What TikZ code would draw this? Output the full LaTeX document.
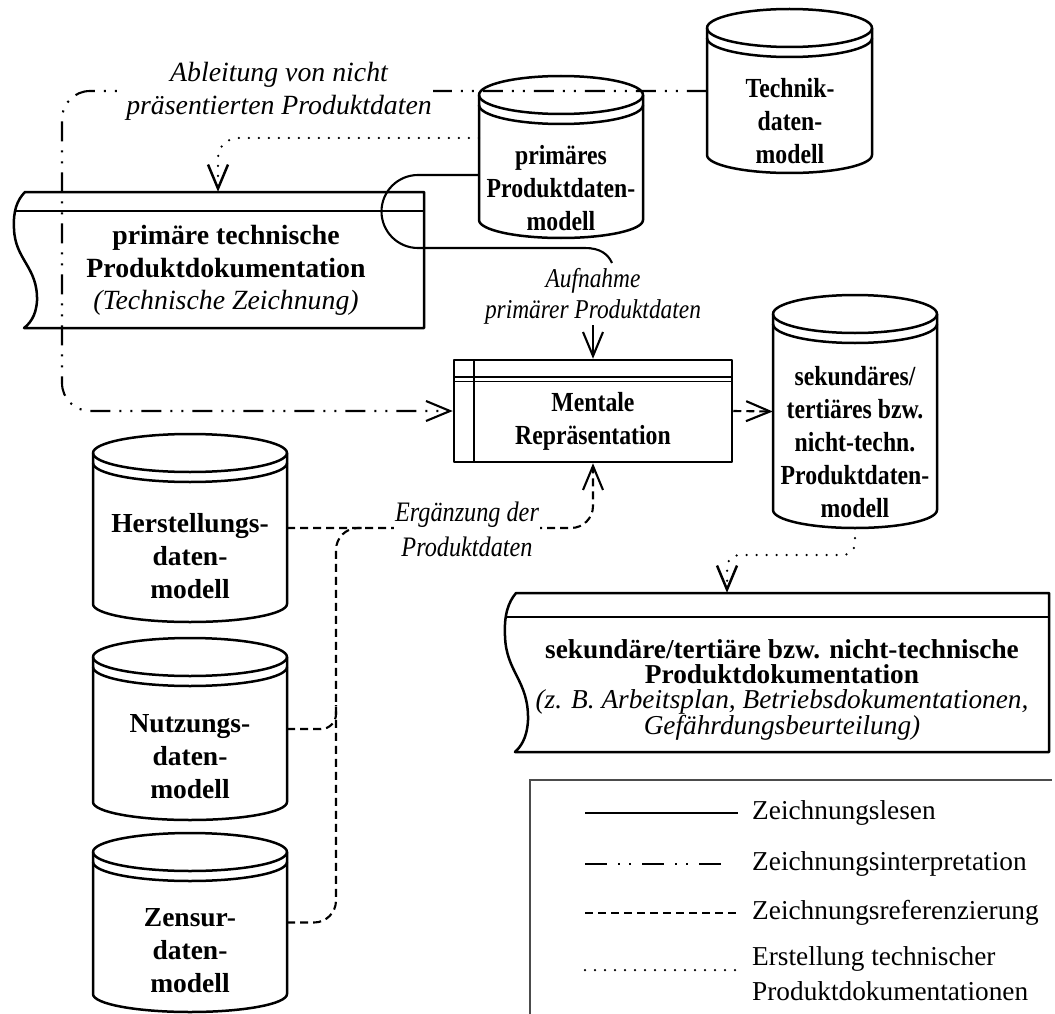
\documentclass[tikz,border=0pt]{standalone}
\usepackage{fontspec}
\setmainfont{Liberation Serif}
\newfontfamily\narrowserif[FakeStretch=0.86]{Liberation Serif}
\usetikzlibrary{arrows.meta}

% cylinder symbol of a data model: name, left, right, top, bottom
\newcommand\datacyl[5]{%
  \pgfmathsetmacro\cylrx{(#3-#2)/2}%
  \node[inner sep=0pt, minimum width={#3-#2}, minimum height={#5-#4}] (#1) at ({(#2+#3)/2},{(#4+#5)/2}) {};
  \draw[outline, fill=white] (#2,#4+19) -- (#2,#5-18)
     arc[start angle=180, end angle=360, x radius=\cylrx pt, y radius=18pt]
     -- (#3,#4+19)
     arc[start angle=0, end angle=180, x radius=\cylrx pt, y radius=19pt] -- cycle;
  \draw[outline] (#2,#4+19) arc[start angle=180, end angle=360, x radius=\cylrx pt, y radius=19pt];
  \draw[outline] (#2,#4+29) arc[start angle=180, end angle=360, x radius=\cylrx pt, y radius=19pt];
}

% document symbol with a wavy left edge: name, left, right, top, rule, bottom
\newcommand\docsym[6]{%
  \pgfmathsetmacro\dh{#6-#4}%
  \def\docpath{(#2,#4) -- (#3,#4) -- (#3,#6) -- (#2-1,#6)
     .. controls (#2+4,#4+0.97*\dh) and (#2+11,#4+0.92*\dh) .. (#2+12,#4+0.80*\dh)
     .. controls (#2+13,#4+0.55*\dh) and (#2-10,#4+0.50*\dh) .. (#2-11,#4+0.27*\dh)
     .. controls (#2-12,#4+0.14*\dh) and (#2-8,#4+0.06*\dh) .. (#2,#4) -- cycle}%
  \node[inner sep=0pt, minimum width={#3-#2}, minimum height={#6-#4}] (#1) at ({(#2+#3)/2},{(#4+#6)/2}) {};
  \fill[white] \docpath;
  \begin{scope}
    \clip \docpath;
    \draw[outline] (#2-20,#5) -- (#3,#5);
  \end{scope}
  \draw[outline] \docpath;
}

\begin{document}
\begin{tikzpicture}[x=1pt, y=-1pt,
  outline/.style={line width=2.5pt, line join=round},
  conn/.style={line width=2.1pt},
  vtip/.style={-{Straight Barb[length=24pt,width=20pt]}},
  readline/.style={conn},
  interp/.style={conn, dash pattern=on 20pt off 9pt on 2pt off 9pt on 2pt off 9pt},
  refline/.style={conn, dash pattern=on 8pt off 5pt},
  makeline/.style={line width=2.5pt, line cap=round, dash pattern=on 0pt off 10pt},
  boldtxt/.style 2 args={font=\bfseries\fontsize{#1}{#2}\selectfont, align=center, inner sep=0pt},
  narrowbold/.style={font=\narrowserif\bfseries\fontsize{27.6}{33}\selectfont, align=center, inner sep=0pt},
  ittxt/.style 2 args={font=\itshape\fontsize{#1}{#2}\selectfont, align=center, inner sep=1pt},
  narrowit/.style 2 args={font=\narrowserif\itshape\fontsize{#1}{#2}\selectfont, align=center, inner sep=1pt},
  legtxt/.style={font=\fontsize{27.3}{35}\selectfont, align=left, inner sep=0pt, anchor=west},
  legendframe/.style={line width=1.2pt, draw=black!70}
]
\useasboundingbox (0,0) rectangle (1055,1014);

% documents
\docsym{doc1}{25}{424}{192}{211}{328}
\docsym{doc2}{516}{1049}{593}{617}{752}
\node[boldtxt={27.8}{33}] (doc1-t) at (226,270)
  {primäre technische\\Produktdokumentation\\[-1pt]{\normalfont\itshape (Technische Zeichnung)}};
\node[boldtxt={27.3}{25}] (doc2-t) at (782,690)
  {sekundäre/tertiäre bzw. nicht-technische\\Produktdokumentation\\
   {\normalfont\itshape (z. B. Arbeitsplan, Betriebsdokumentationen,}\\
   {\normalfont\itshape Gefährdungsbeurteilung)}};

% data models
\datacyl{prim}{479}{643}{76}{238}
\datacyl{tech}{707}{872}{9}{173}
\datacyl{sek}{773}{937}{295}{528}
\datacyl{herst}{93}{287}{434}{622}
\datacyl{nutz}{93}{287}{638}{820}
\datacyl{zens}{93}{287}{833}{1012}
\node[narrowbold] (prim-t) at (561,188) {primäres\\Produktdaten-\\modell};
\node[narrowbold] (tech-t) at (790,121) {Technik-\\daten-\\modell};
\node[narrowbold] (sek-t) at (855,442)
  {sekundäres/\\tertiäres bzw.\\nicht-techn.\\Produktdaten-\\modell};
\node[boldtxt={27.5}{33}] (herst-t) at (190,556) {Herstellungs-\\daten-\\modell};
\node[boldtxt={27.5}{33}] (nutz-t) at (190,757) {Nutzungs-\\daten-\\modell};
\node[boldtxt={27.5}{33}] (zens-t) at (190,951) {Zensur-\\daten-\\modell};

% mental representation
\node[draw, outline, minimum width=278, minimum height=102, inner sep=0pt] (mental) at (593,411) {};
\draw[line width=1.8pt] (454,377) -- (732,377) (454,381.5) -- (732,381.5);
\draw[outline] (474,360) -- (474,462);
\node[narrowbold] (mental-t) at (593,421) {Mentale\\Repräsentation};

% reading the drawing
\node[narrowit={27.2}{31}] (aufn) at (593,296) {Aufnahme\\primärer Produktdaten};
\draw[readline] ([yshift=-18pt]prim.west) -- (418,175)
  arc[start angle=90, end angle=270, radius=36.5pt] -- (585,248)
  .. controls (600,248) and (608,254) .. (612,263);
\draw[readline, vtip] (aufn.south) -- (mental.north);

% interpreting the drawing
\draw[interp, vtip, rounded corners=28pt] (tech.west) -- (62,91) -- (62,411) -- (mental.west);
\node[ittxt={27.8}{33}, fill=white] (ableit) at (279,91)
  {Ableitung von nicht\\präsentierten Produktdaten};

% creating product documentation
\draw[makeline, vtip, rounded corners=20pt] ([yshift=19pt]prim.west) -- (218,138) -- ([xshift=-6.5pt]doc1.north);
\draw[makeline, vtip, rounded corners=12pt] (sek.south) -- (855,555) -- (727,555) -- ([xshift=-55.5pt]doc2.north);

% referencing the drawing
\draw[refline, vtip] (mental.east) -- (sek.west);
\draw[refline, vtip, rounded corners=22pt] (herst.east) -- (593,528) -- (mental.south);
\draw[refline, rounded corners=22pt] (zens.east) -- (336,922.5) -- (336,528) -- (362,528);
\draw[refline, rounded corners=15pt] (nutz.east) -- (336,729) -- (336,705);
\node[narrowit={28.2}{35}, fill=white] (ergz) at (467,529) {Ergänzung der\\Produktdaten};

% legend
\draw[legendframe] (1052,780) -- (530,780) -- (530,1014);
\node[legtxt] (lg1) at (752,813) {Zeichnungslesen};
\node[legtxt] (lg2) at (752,864) {Zeichnungsinterpretation};
\node[legtxt] (lg3) at (752,913) {Zeichnungsreferenzierung};
\node[legtxt, anchor=north west] (lg4) at (752,946) {Erstellung technischer\\Produktdokumentationen};
\draw[readline] ([xshift=-167pt]lg1.west) -- ++(153,0);
\draw[interp, dash pattern=on 22pt off 11pt on 2pt off 9pt on 2pt off 11pt]
  ([xshift=-167pt]lg2.west) -- ++(136,0);
\draw[refline] ([xshift=-167pt]lg3.west) -- ++(153,0);
\draw[makeline] (585,970) -- (738,970);
\end{tikzpicture}
\end{document}
